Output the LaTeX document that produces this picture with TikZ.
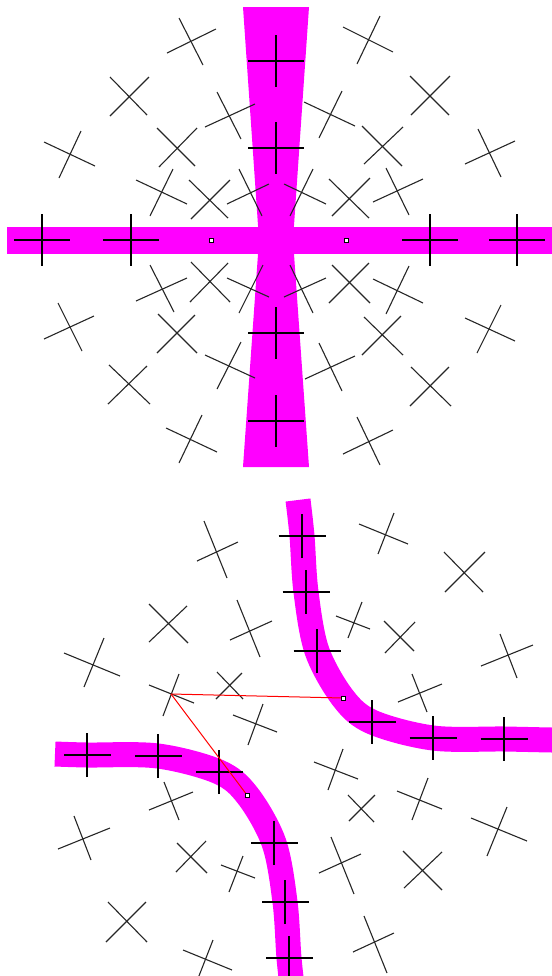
\documentclass[tikz,border=0pt]{standalone}
\definecolor{mag}{RGB}{255,0,255}
\begin{document}
\begin{tikzpicture}[x=0.5pt,y=-0.5pt,
  xline/.style={line width=0.55pt, black!85},
  bline/.style={line width=0.85pt, black},
  bandfill/.style={fill=mag, draw=none},
  bandline/.style={draw=mag, line width=12.5pt, line cap=butt, line join=round},
  redline/.style={draw=red, line width=0.5pt},
  marker/.style={draw=black, fill=white, line width=0.45pt}]
\useasboundingbox (0,0) rectangle (552,976);
\clip (0,0) rectangle (552,976);
% ---------- top half: magenta bands ----------
\path[bandfill] (243,7) -- (309,7) -- (293,240) -- (309,467) -- (243,467) -- (259,240) -- cycle;
\path[bandfill] (7,227) rectangle (552,254);
% ---------- top half: crosses off the bands ----------
\foreach \a/\b/\c/\d in {
  179/18/203/65, 167/53/216/29,
  110/77/147/115, 110/116/149/77,
  217/92/241/139, 205/127/255/104,
  157/128/195/166, 159/167/197/128,
  81/131/59/178, 44/142/95/166,
  173/169/150/216, 136/180/187/204,
  189/180/228/218, 191/219/230/180,
  239/169/262/216, 227/204/269/184,
  380/16/357/64, 343/27/393/52,
  410/76/449/115, 411/115/450/76,
  342/91/319/138, 304/102/355/126,
  362/126/402/166, 364/164/403/127,
  478/129/501/177, 465/164/515/141,
  313/169/290/216, 284/184/326/204,
  329/179/369/218, 332/216/370/178,
  386/168/409/215, 373/202/423/179,
  150/265/174/312, 136/301/187/278,
  191/262/230/302, 190/302/228/263,
  263/265/239/313, 227/278/269/297,
  58/303/82/351, 44/339/94/316,
  158/314/197/353, 157/353/195/315,
  241/342/217/389, 205/355/255/378,
  109/365/150/404, 108/404/147/366,
  202/415/179/463, 166/428/217/452,
  290/265/313/313, 284/297/326/278,
  332/265/370/303, 329/303/369/263,
  409/266/386/314, 373/279/423/303,
  364/317/403/355, 362/355/401/316,
  501/305/477/353, 465/318/515/341,
  319/343/342/391, 305/379/355/356,
  411/367/451/406, 410/406/449/367,
  357/417/380/465, 343/454/393/430}
  \draw[xline] (\a,\b) -- (\c,\d);
% ---------- top half: crosses on the bands ----------
\foreach \x/\y in {42/240, 131/240, 430/240, 517/240, 276/61, 276/148, 276/333, 276/421}{
  \draw[bline] (\x-28,\y) -- (\x+28,\y);
  \draw[bline] (\x,\y-26) -- (\x,\y+26);
}
\draw[marker] (209,238) rectangle (213,242);
\draw[marker] (344,238) rectangle (348,242);
% ---------- bottom half: magenta curves ----------
\draw[bandline] plot[smooth, tension=0.55] coordinates {(298,500) (302,536) (306,592) (317,651) (343,698) (372,722) (433,738) (504,739) (552,740) (570,740)};
\draw[bandline] plot[smooth, tension=0.55] coordinates {(55,754) (87,755) (158,756) (219,772) (248,796) (274,843) (285,902) (289,958) (293,994)};
% ---------- bottom half: crosses (upper right and its point mirror) ----------
\foreach \s in {0,1}{
 \begin{scope}[shift={(591*\s,1494*\s)}, scale=1-2*\s]
  \foreach \a/\b/\c/\d in {
    394/513/378/554, 359/524/408/544,
    444/552/483/592, 445/592/485/552,
    362/602/348/638, 336/616/370/629,
    384/621/414/651, 385/653/415/622,
    500/634/517/678, 481/666/533/645,
    412/674/427/712, 398/702/442/684,
    343/749/328/790, 314/762/358/779,
    348/795/374/822, 349/821/375/795,
    428/778/412/820, 397/791/442/809,
    507/807/487/856, 471/818/527/841,
    331/837/354/894, 319/873/361/854,
    403/851/442/890, 404/888/442/852,
    364/916/387/973, 353/952/394/933}
    \draw[xline] (\a,\b) -- (\c,\d);
  \foreach \x/\y in {302/536, 306/592, 317/651, 372/722, 433/738, 504/739}{
    \draw[bline] (\x-23.5,\y) -- (\x+23.5,\y);
    \draw[bline] (\x,\y-22) -- (\x,\y+22);
  }
 \end{scope}
}
% ---------- red connectors ----------
\coordinate (p) at (171,694);
\coordinate (q) at (343,698);
\coordinate (r) at (247,795);
\draw[redline] (p) -- (q);
\draw[redline] (p) -- (r);
\draw[marker] (341,696) rectangle (345,700);
\draw[marker] (245,793) rectangle (249,797);
\end{tikzpicture}
\end{document}
